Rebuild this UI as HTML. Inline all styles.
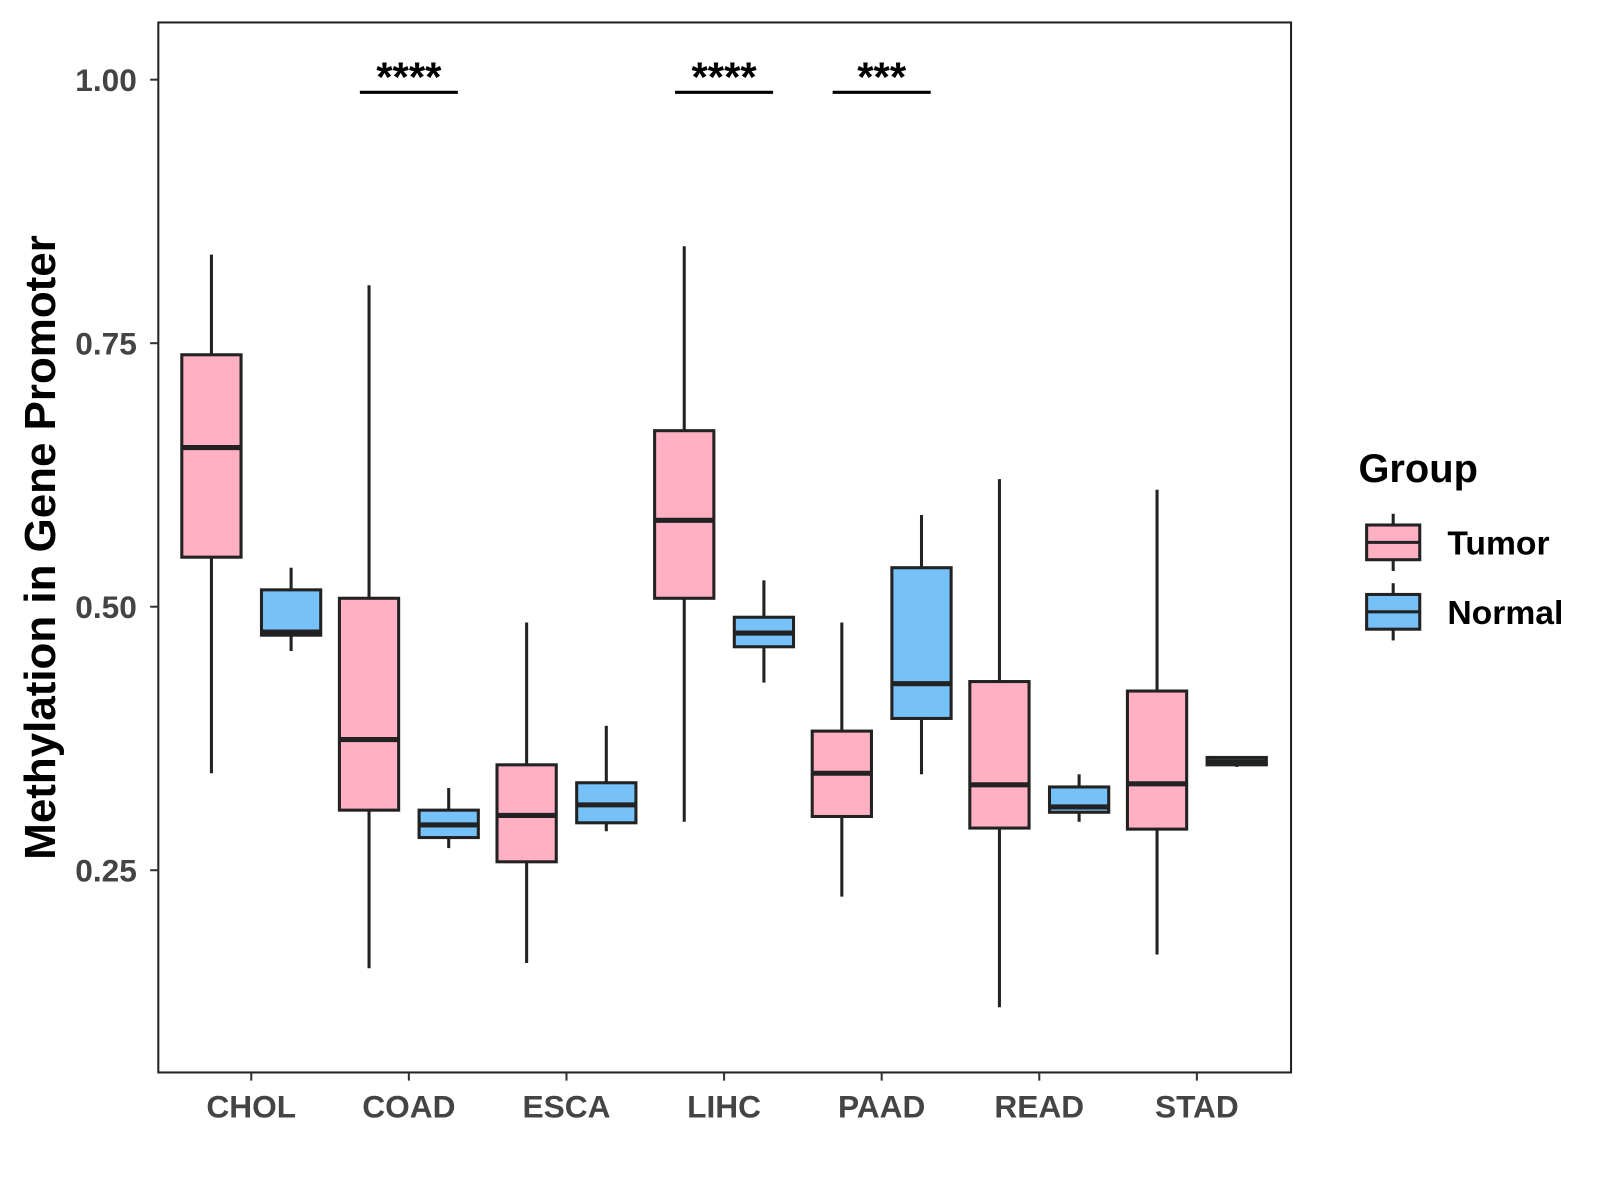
<!DOCTYPE html>
<html><head><meta charset="utf-8"><style>
body{margin:0;background:#fff}
svg{display:block}
text{font-family:"Liberation Sans",Arial,sans-serif}
</style></head><body>
<svg id="chart" width="1600" height="1200" viewBox="0 0 1600 1200">
<rect x="0" y="0" width="1600" height="1200" fill="#fff"/>
<g transform="scale(1.0214)">
<rect x="155" y="22" width="1109" height="1028" fill="none" stroke="#222" stroke-width="2"/>
<g id="boxes"></g>
<g id="axes"></g>
<text x="54" y="536" transform="rotate(-90 54 536)" text-anchor="middle" font-size="43" font-weight="bold" fill="#000">Methylation in Gene Promoter</text>
<g>
<text x="1330" y="472" font-size="39" font-weight="bold">Group</text>
<g>
<line x1="1364" y1="503" x2="1364" y2="559" stroke="#222" stroke-width="3"/>
<rect x="1338" y="514" width="52" height="34" fill="#FFB0C3" stroke="#222" stroke-width="3"/>
<line x1="1338" y1="531" x2="1390" y2="531" stroke="#222" stroke-width="3"/>
<text x="1417" y="543" font-size="33" font-weight="bold">Tumor</text>
</g>
<g>
<line x1="1364" y1="571" x2="1364" y2="627" stroke="#222" stroke-width="3"/>
<rect x="1338" y="582" width="52" height="34" fill="#76C1F7" stroke="#222" stroke-width="3"/>
<line x1="1338" y1="599" x2="1390" y2="599" stroke="#222" stroke-width="3"/>
<text x="1417" y="611" font-size="33" font-weight="bold">Normal</text>
</g>
</g>
</g>
</svg>
<script>
const categories=["CHOL","COAD","ESCA","LIHC","PAAD","READ","STAD"];
const tumorLow=[0.342,0.157,0.162,0.296,0.225,0.120,0.170];
const tumorQ1=[0.547,0.307,0.258,0.508,0.301,0.290,0.289];
const tumorMed=[0.651,0.374,0.302,0.582,0.342,0.331,0.332];
const tumorQ3=[0.739,0.508,0.350,0.667,0.382,0.429,0.420];
const tumorHigh=[0.834,0.805,0.485,0.842,0.485,0.621,0.611];
const normalLow=[0.458,0.271,0.287,0.428,0.341,0.296,0.348];
const normalQ1=[0.473,0.281,0.295,0.462,0.394,0.305,0.350];
const normalMed=[0.476,0.293,0.312,0.475,0.427,0.310,0.353];
const normalQ3=[0.516,0.307,0.333,0.490,0.537,0.329,0.357];
const normalHigh=[0.537,0.328,0.387,0.525,0.587,0.341,0.358];
const yTicks=[0.25,0.50,0.75,1.00];
const yTickLabels=["0.25","0.50","0.75","1.00"];
const sigCategories=["COAD","LIHC","PAAD"];
const sigLabels=["****","****","***"];
const sigLevel=[0.988,0.988,0.988];

const NS="http://www.w3.org/2000/svg";
const y=v=>78+(1-v)*1032;
const x=i=>246+i*154.3;
function mk(tag,attrs,parent){const e=document.createElementNS(NS,tag);for(const k in attrs)e.setAttribute(k,attrs[k]);parent.appendChild(e);return e;}
const boxes=document.getElementById('boxes'),axes=document.getElementById('axes');
function drawBox(cx,lo,q1,md,q3,hi,fill,name){
 const g=mk('g',{},boxes);
 
 
 mk('line',{x1:cx,x2:cx,y1:y(hi),y2:y(q3),stroke:'#222','stroke-width':3},g);
 mk('line',{x1:cx,x2:cx,y1:y(q1),y2:y(lo),stroke:'#222','stroke-width':3},g);
 mk('rect',{x:cx-29,y:y(q3),width:58,height:Math.max(y(q1)-y(q3),1),fill:fill,stroke:'#222','stroke-width':3},g);
 mk('line',{x1:cx-29,x2:cx+29,y1:y(md),y2:y(md),stroke:'#222','stroke-width':5},g);
}
categories.forEach((c,i)=>{
 drawBox(x(i)-39,tumorLow[i],tumorQ1[i],tumorMed[i],tumorQ3[i],tumorHigh[i],'#FFB0C3','box-tumor-'+c.toLowerCase());
 drawBox(x(i)+39,normalLow[i],normalQ1[i],normalMed[i],normalQ3[i],normalHigh[i],'#76C1F7','box-normal-'+c.toLowerCase());
 mk('line',{x1:x(i),x2:x(i),y1:1050,y2:1058,stroke:'#333','stroke-width':2},axes);
 const t=mk('text',{x:x(i),y:1094,'text-anchor':'middle','font-size':31,'font-weight':'bold',fill:'#444'},axes);
 t.textContent=c;
 
 
});
yTicks.forEach((v,i)=>{
 mk('line',{x1:147,x2:155,y1:y(v),y2:y(v),stroke:'#333','stroke-width':2},axes);
 const t=mk('text',{x:134,y:y(v)+11,'text-anchor':'end','font-size':31,'font-weight':'bold',fill:'#444'},axes);
 t.textContent=yTickLabels[i];
 
 
});
sigCategories.forEach((c,k)=>{
 const i=categories.indexOf(c);
 const g=mk('g',{},boxes);
 
 
 mk('line',{x1:x(i)-48,x2:x(i)+48,y1:y(sigLevel[k]),y2:y(sigLevel[k]),stroke:'#000','stroke-width':3},g);
 const t=mk('text',{x:x(i),y:y(sigLevel[k])-1,'text-anchor':'middle','font-size':41,'font-weight':'bold'},g);
 t.textContent=sigLabels[k];
});
</script>
</body></html>
